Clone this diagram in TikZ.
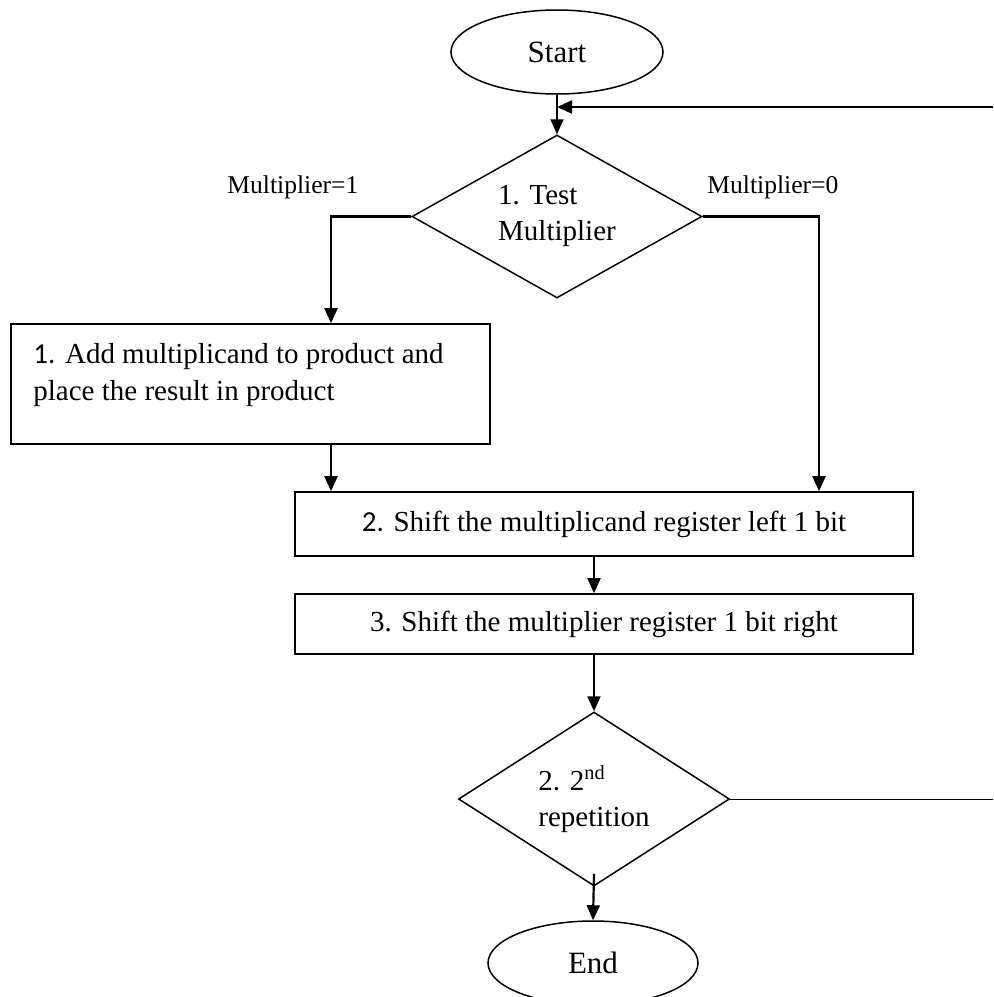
\documentclass[tikz,border=0pt]{standalone}
\usepackage{fontspec}
\setmainfont{Liberation Serif}
\newfontfamily\carlfont{Carlito}
\usetikzlibrary{shapes.geometric,arrows.meta,calc}
\begin{document}
\begin{tikzpicture}[x=0.5pt,y=-0.5pt,
  main/.style={font=\fontsize{14.5}{18}\selectfont},
  lbl/.style={font=\fontsize{12.8}{15}\selectfont, inner sep=0pt, anchor=base west},
  txt/.style={main, inner sep=0pt, anchor=base west},
  term/.style={ellipse, draw, line width=0.75pt, inner sep=0pt, font=\fontsize{15.5}{18}\selectfont},
  dec/.style={diamond, draw, line width=0.75pt, inner sep=0pt, align=left, main, shape aspect=1.79},
  proc/.style={rectangle, draw, line width=0.8pt, inner sep=0pt, main},
  arr/.style={line width=1.1pt, -{Triangle[length=7.5pt,width=6.5pt]}},
]
\useasboundingbox (0,0) rectangle (993,997);
\clip (0,0) rectangle (993,997);
\node[term, minimum width=106pt, minimum height=42pt] (start) at (557,52) {Start};
\node[dec, minimum width=145pt, minimum height=81.5pt] (d1) at (557,216.5) {1. Test\\Multiplier};
\node[proc, minimum width=239.5pt, minimum height=60pt] (box1) at (250.5,384) {};
\node[txt] (t1a) at (33,363) {{\carlfont 1.} Add multiplicand to product and};
\node[txt] (t1b) at (33,400) {place the result in product};
\node[proc, minimum width=309pt, minimum height=32pt] (box2) at (604,524) {{\carlfont 2.} Shift the multiplicand register left 1 bit};
\node[proc, minimum width=309pt, minimum height=30pt] (box3) at (604,624) {3. Shift the multiplier register 1 bit right};
\node[dec, minimum width=135.5pt, minimum height=87pt] (d2) at (594,799) {2. 2\textsuperscript{nd}\\repetition};
\node[term, minimum width=105pt, minimum height=42pt] (end) at (593,963) {End};
\node[lbl] (l1) at (227,193) {Multiplier=1};
\node[lbl] (l0) at (707,193) {Multiplier=0};
\draw[arr] (start.south) -- (d1.north);
\coordinate (loopT) at (993,107);
\draw[arr] (loopT) -- (loopT -| start.south);
\coordinate (xl) at (331,0);
\coordinate (xr) at (819,0);
\draw[arr] (d1.west) -| (xl |- box1.north);
\draw[arr] (d1.east) -| (xr |- box2.north);
\draw[arr] (xl |- box1.south) -- (xl |- box2.north);
\draw[arr] (box2.south -| d2.north) -- (box3.north -| d2.north);
\draw[arr] (box3.south -| d2.north) -- (d2.north);
\draw[arr] ($(d2.south)+(0,-13)$) -- (end.north);
\coordinate (loopB) at (993,797);
\draw[line width=0.5pt] (d2.east) -- (d2.east -| loopB);
\end{tikzpicture}
\end{document}
